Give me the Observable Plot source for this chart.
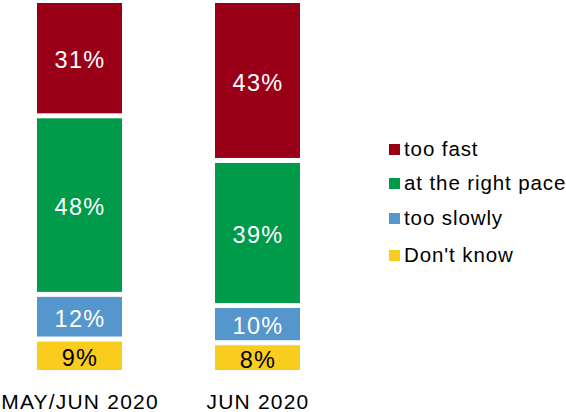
<!DOCTYPE html>
<html>
<head>
<meta charset="utf-8">
<script src="https://cdn.jsdelivr.net/npm/d3@7"></script>
<script src="https://cdn.jsdelivr.net/npm/@observablehq/plot@0.6"></script>
<style>
  body { margin: 0; background: #fff; }
  #wrap { position: relative; width: 566px; height: 412px; font-family: "Liberation Sans", Arial, sans-serif; }
  #wrap svg text { letter-spacing: 1.3px; }
  #wrap svg g[aria-label="x-axis tick label"] text { letter-spacing: 1.2px; }
  #legend { position: absolute; left: 389px; top: 0; }
  .row { position: absolute; left: 0; display: flex; align-items: center; white-space: nowrap; font-size: 20.5px; color: #000; letter-spacing: 0.9px; }
  .sw { width: 11px; height: 11px; margin-right: 4px; flex: none; }
</style>
</head>
<body>
<div id="wrap"><div id="legend"></div></div>
<script>
const periods = ["MAY/JUN 2020", "JUN 2020"];
const categories = ["Don't know", "too slowly", "at the right pace", "too fast"];
const colors = ["#F9CD1E", "#5596CD", "#009A4B", "#990017"];
const textColors = ["#000000", "#ffffff", "#ffffff", "#ffffff"];
const valuesMayJun = [9, 12, 48, 31];
const valuesJun = [8, 10, 39, 43];
const legendOrder = ["too fast", "at the right pace", "too slowly", "Don't know"];

const data = [];
[valuesMayJun, valuesJun].forEach((vals, pi) => {
  vals.forEach((v, ci) => data.push({period: periods[pi], category: categories[ci], value: v}));
});
const colorOf = c => colors[categories.indexOf(c)];
const textColorOf = c => textColors[categories.indexOf(c)];

const chart = Plot.plot({
  width: 566,
  height: 412,
  marginTop: 0.5,
  marginBottom: 39.5,
  marginLeft: 1.4,
  marginRight: 230.3,
  style: {fontFamily: "'Liberation Sans', Arial, sans-serif", fontSize: "20px", color: "#000", background: "#fff", overflow: "visible"},
  x: {domain: periods, paddingInner: 0.522, paddingOuter: 0.2, label: null},
  y: {domain: [0, 100], axis: null},
  color: {type: "identity"},
  marks: [
    Plot.barY(data, Plot.stackY({
      x: "period", y: "value", z: "category", order: categories,
      fill: d => colorOf(d.category), insetTop: 2.5, insetBottom: 2.5
    })),
    Plot.text(data, Plot.stackY({
      x: "period", y: "value", z: "category", order: categories,
      text: d => d.value + "%", fill: d => textColorOf(d.category),
      fontSize: 23.5, dy: 2
    })),
    Plot.axisX({tickSize: 0, tickPadding: 21.5, fontSize: 21, label: null})
  ]
});
document.getElementById("wrap").prepend(chart);

const rowCenters = [149, 183, 218, 255];
const legend = document.getElementById("legend");
legendOrder.forEach((c, i) => {
  const row = document.createElement("div");
  row.className = "row";
  row.style.top = (rowCenters[i] - 12) + "px";
  row.style.height = "24px";
  const sw = document.createElement("span");
  sw.className = "sw";
  sw.style.background = colorOf(c);
  const t = document.createElement("span");
  t.textContent = c;
  row.append(sw, t);
  legend.append(row);
});
</script>
</body>
</html>
